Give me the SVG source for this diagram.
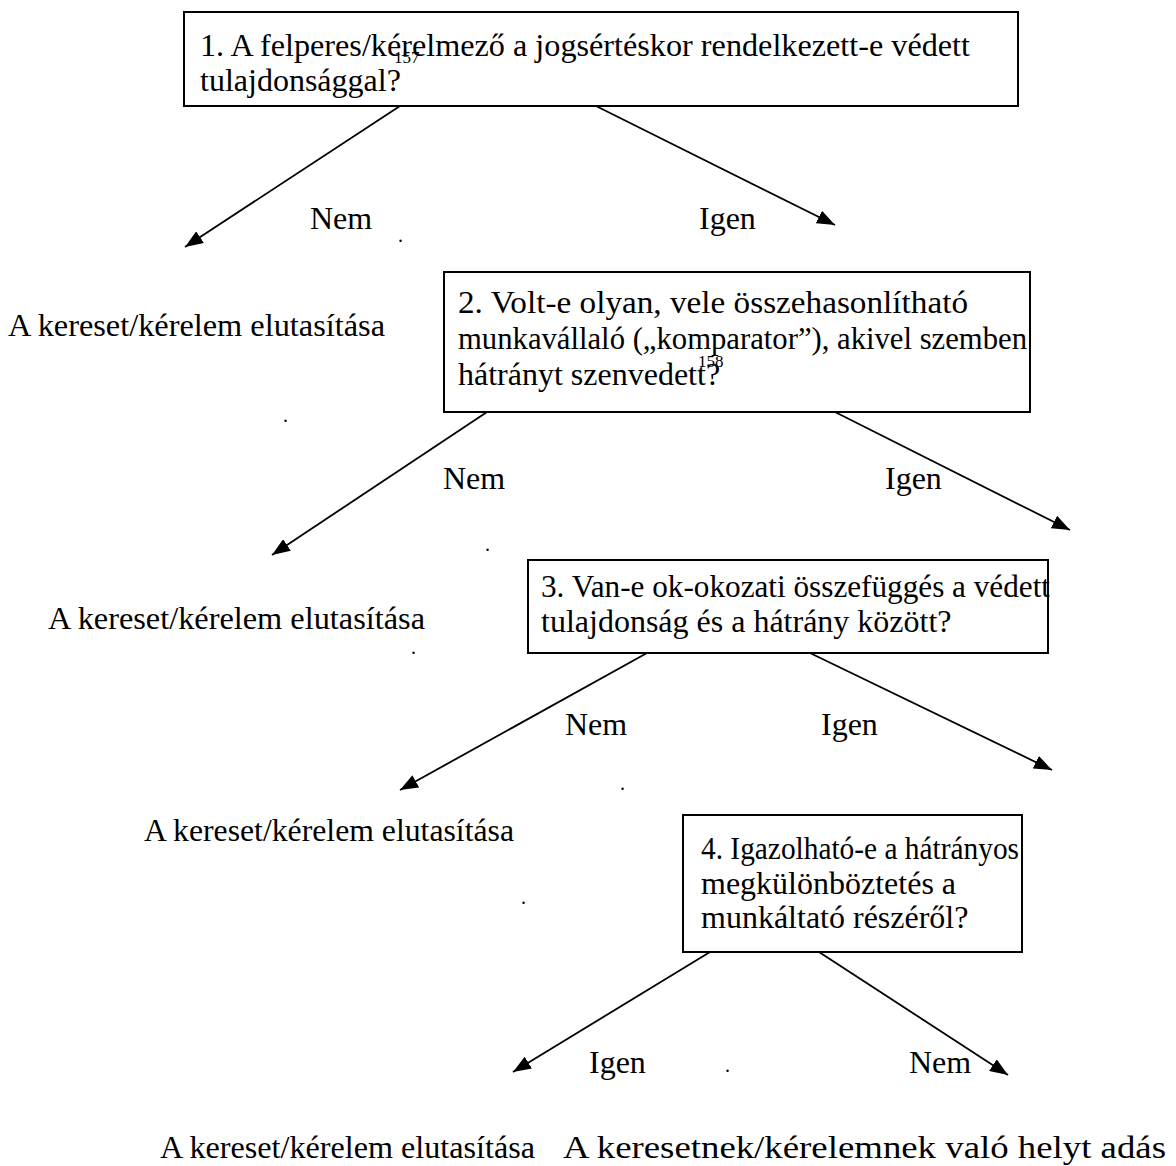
<svg xmlns="http://www.w3.org/2000/svg" width="1176" height="1166" viewBox="0 0 1176 1166">
<style>
  text { font-family: "Liberation Serif", "Times New Roman", serif; font-size: 32px; fill: #000; }
  .box { fill: #fff; stroke: #000; stroke-width: 2; }
  .sup { font-size: 17px; }
  .dot { font-size: 20px; }
  .conn line { stroke: #000; stroke-width: 1.8; marker-end: url(#ah); }
</style>
<defs>
  <marker id="ah" viewBox="0 0 18 14" markerUnits="userSpaceOnUse" markerWidth="18" markerHeight="14" refX="18" refY="7" orient="auto">
    <path d="M0,0 L18,7 L0,14 z" fill="#000"/>
  </marker>
</defs>
<rect width="1176" height="1166" fill="#fff"/>

<g id="connectors" class="conn">
  <line x1="400" y1="106" x2="185" y2="247"/>
  <line x1="596" y1="106" x2="835" y2="225"/>
  <line x1="487" y1="412" x2="272" y2="555"/>
  <line x1="835" y1="412" x2="1070" y2="530"/>
  <line x1="647" y1="653" x2="400" y2="790"/>
  <line x1="810" y1="653" x2="1052" y2="770"/>
  <line x1="710" y1="952" x2="513" y2="1072"/>
  <line x1="819" y1="952" x2="1008" y2="1075"/>
</g>

<g id="node1">
  <rect class="box" x="184" y="12" width="834" height="94"/>
  <text x="200" y="56" textLength="770" lengthAdjust="spacingAndGlyphs">1. A felperes/kérelmező a jogsértéskor rendelkezett-e védett</text>
  <text class="sup" x="394" y="63">157</text>
  <text x="200" y="91">tulajdonsággal?</text>
</g>

<g id="node2">
  <rect class="box" x="444" y="272" width="586" height="140"/>
  <text x="458" y="313" textLength="510" lengthAdjust="spacingAndGlyphs">2. Volt-e olyan, vele összehasonlítható</text>
  <text x="458" y="349" textLength="569" lengthAdjust="spacingAndGlyphs">munkavállaló („komparator”), akivel szemben</text>
  <text x="458" y="385">hátrányt szenvedett?</text>
  <text class="sup" x="698" y="367">158</text>
</g>

<g id="node3">
  <rect class="box" x="528" y="560" width="520" height="93"/>
  <text x="541" y="597" textLength="509" lengthAdjust="spacingAndGlyphs">3. Van-e ok-okozati összefüggés a védett</text>
  <text x="541" y="632">tulajdonság és a hátrány között?</text>
</g>

<g id="node4">
  <rect class="box" x="683" y="815" width="339" height="137"/>
  <text x="701" y="859" textLength="318" lengthAdjust="spacingAndGlyphs">4. Igazolható-e a hátrányos</text>
  <text x="701" y="894">megkülönböztetés a</text>
  <text x="701" y="928">munkáltató részéről?</text>
</g>

<g id="outcome1"><text x="8" y="336" textLength="377" lengthAdjust="spacingAndGlyphs">A kereset/kérelem elutasítása</text></g>
<g id="outcome2"><text x="48" y="629" textLength="377" lengthAdjust="spacingAndGlyphs">A kereset/kérelem elutasítása</text></g>
<g id="outcome3"><text x="144" y="841" textLength="370" lengthAdjust="spacingAndGlyphs">A kereset/kérelem elutasítása</text></g>
<g id="outcome4"><text x="160" y="1158" textLength="375" lengthAdjust="spacingAndGlyphs">A kereset/kérelem elutasítása</text></g>
<g id="outcome5"><text x="563" y="1158" textLength="603" lengthAdjust="spacingAndGlyphs">A keresetnek/kérelemnek való helyt adás</text></g>

<g id="labels">
  <text x="310" y="229">Nem</text>
  <text x="699" y="229">Igen</text>
  <text x="443" y="489">Nem</text>
  <text x="885" y="489">Igen</text>
  <text x="565" y="735">Nem</text>
  <text x="821" y="735">Igen</text>
  <text x="589" y="1073">Igen</text>
  <text x="909" y="1073">Nem</text>
</g>

<g id="dots">
  <text class="dot" x="398" y="242">.</text>
  <text class="dot" x="283" y="422">.</text>
  <text class="dot" x="485" y="551">.</text>
  <text class="dot" x="411" y="654">.</text>
  <text class="dot" x="620" y="790">.</text>
  <text class="dot" x="521" y="904">.</text>
  <text class="dot" x="725" y="1072">.</text>
</g>
</svg>
